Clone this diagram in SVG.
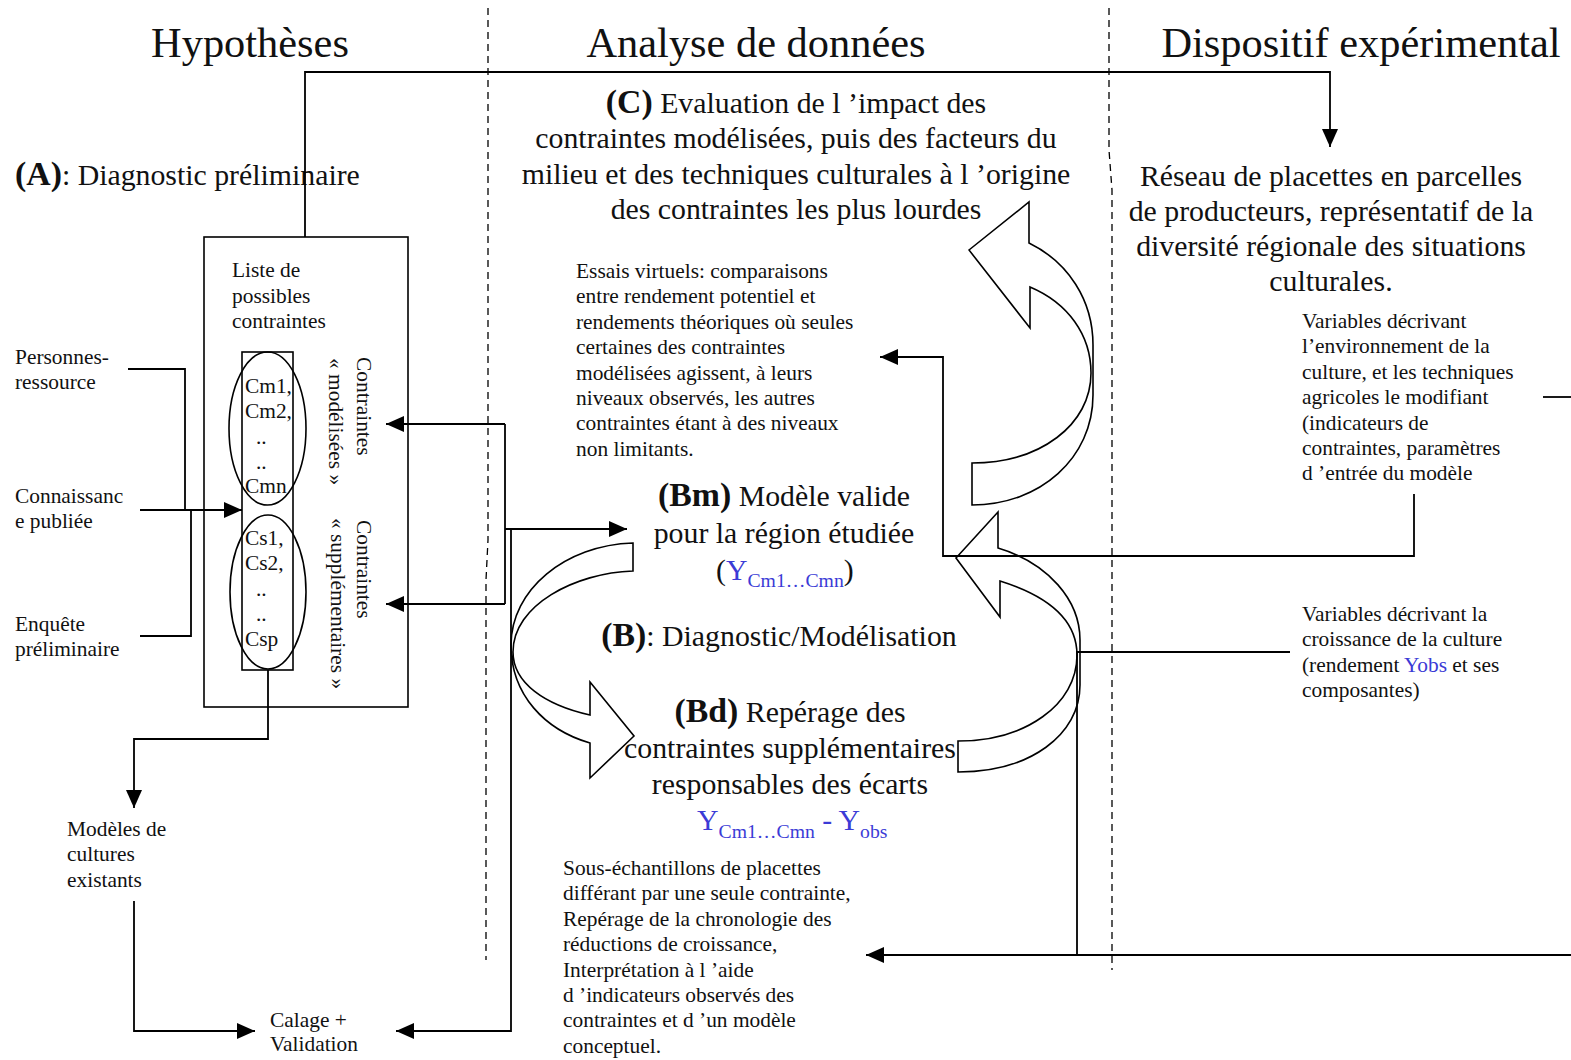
<svg xmlns="http://www.w3.org/2000/svg" width="1571" height="1060" viewBox="0 0 1571 1060">
<style>
text{font-family:"Liberation Serif","Times New Roman",serif;fill:#111}
.t{font-size:42.4px}
.L{font-size:29.8px}
.b{font-weight:bold;font-size:33.8px}
.s{font-size:21.4px}
.blue{fill:#3b3bd6}
.sub{font-size:19.7px}
.ln{fill:none;stroke:#000;stroke-width:1.8}
.sh{fill:none;stroke:#000;stroke-width:1.6}
.dash{fill:none;stroke:#000;stroke-width:1.3;stroke-dasharray:7 5}
</style>
<defs>
<marker id="ah" viewBox="0 0 18 16" refX="18" refY="8" markerWidth="18" markerHeight="16" markerUnits="userSpaceOnUse" orient="auto">
<path d="M0,0 L18,8 L0,16 Z" fill="#000"/>
</marker>
</defs>
<rect width="1571" height="1060" fill="#fff"/>

<g id="columns">
<path class="dash" d="M488,8 V540 L486,580 V960"/>
<path class="dash" d="M1109,8 V150 L1112,190 V970"/>
<text class="t" x="250" y="57" text-anchor="middle">Hypothèses</text>
<text class="t" x="756" y="57" text-anchor="middle">Analyse de données</text>
<text class="t" x="1361" y="57" text-anchor="middle">Dispositif expérimental</text>
</g>

<g id="nodeA">
<text class="L" x="15" y="185"><tspan class="b">(A)</tspan>: Diagnostic préliminaire</text>
</g>

<g id="listBox">
<rect class="sh" x="204" y="237" width="204" height="470"/>
<text class="s" x="232" y="277">Liste de</text>
<text class="s" x="232" y="303">possibles</text>
<text class="s" x="232" y="328">contraintes</text>
<rect class="sh" x="242" y="352" width="51" height="318"/>
<ellipse class="sh" cx="267.5" cy="428.5" rx="38.5" ry="76.5"/>
<ellipse class="sh" cx="268" cy="592" rx="38" ry="77"/>
<text class="s" x="245" y="393">Cm1,</text>
<text class="s" x="245" y="418">Cm2,</text>
<text class="s" x="256" y="444">..</text>
<text class="s" x="256" y="469">..</text>
<text class="s" x="245" y="493">Cmn</text>
<text class="s" x="245" y="545">Cs1,</text>
<text class="s" x="245" y="570">Cs2,</text>
<text class="s" x="256" y="596">..</text>
<text class="s" x="256" y="621">..</text>
<text class="s" x="245" y="646">Csp</text>
<text class="s" transform="translate(357,357) rotate(90)">Contraintes</text>
<text class="s" transform="translate(329,358) rotate(90)">« modélisées »</text>
<text class="s" transform="translate(357,520) rotate(90)">Contraintes</text>
<text class="s" transform="translate(331,518) rotate(90)">« supplémentaires »</text>
</g>

<g id="personnes"><text class="s" x="15" y="364">Personnes-</text><text class="s" x="15" y="389">ressource</text></g>
<g id="connaissance"><text class="s" x="15" y="503">Connaissanc</text><text class="s" x="15" y="528">e publiée</text></g>
<g id="enquete"><text class="s" x="15" y="631">Enquête</text><text class="s" x="15" y="656">préliminaire</text></g>
<g id="modeles"><text class="s" x="67" y="836">Modèles de</text><text class="s" x="67" y="861">cultures</text><text class="s" x="67" y="887">existants</text></g>
<g id="calage"><text class="s" x="270" y="1027">Calage +</text><text class="s" x="270" y="1051">Validation</text></g>

<g id="nodeC">
<text class="L" x="796" y="113" text-anchor="middle"><tspan class="b">(C)</tspan> Evaluation de l ’impact des</text>
<text class="L" x="796" y="148" text-anchor="middle">contraintes modélisées, puis des facteurs du</text>
<text class="L" x="796" y="184" text-anchor="middle">milieu et des techniques culturales à l ’origine</text>
<text class="L" x="796" y="219" text-anchor="middle">des contraintes les plus lourdes</text>
</g>

<g id="essais">
<text class="s" x="576" y="278">Essais virtuels: comparaisons</text>
<text class="s" x="576" y="303.4">entre rendement potentiel et</text>
<text class="s" x="576" y="328.8">rendements théoriques où seules</text>
<text class="s" x="576" y="354.2">certaines des contraintes</text>
<text class="s" x="576" y="379.6">modélisées agissent, à leurs</text>
<text class="s" x="576" y="405">niveaux observés, les autres</text>
<text class="s" x="576" y="430.4">contraintes étant à des niveaux</text>
<text class="s" x="576" y="455.8">non limitants.</text>
</g>

<g id="nodeBm">
<text class="L" x="784" y="506" text-anchor="middle"><tspan class="b">(Bm)</tspan> Modèle valide</text>
<text class="L" x="784" y="543" text-anchor="middle">pour la région étudiée</text>
<text class="L" x="716" y="580">(<tspan class="blue">Y</tspan><tspan class="blue sub" dy="7">Cm1…Cmn</tspan><tspan dy="-7">)</tspan></text>
</g>

<g id="nodeB">
<text class="L" x="779" y="646" text-anchor="middle"><tspan class="b">(B)</tspan>: Diagnostic/Modélisation</text>
</g>

<g id="nodeBd">
<text class="L" x="790" y="722" text-anchor="middle"><tspan class="b">(Bd)</tspan> Repérage des</text>
<text class="L" x="790" y="758" text-anchor="middle">contraintes supplémentaires</text>
<text class="L" x="790" y="794" text-anchor="middle">responsables des écarts</text>
<text class="L blue" x="697" y="830">Y<tspan class="sub" dy="8">Cm1…Cmn</tspan><tspan dy="-8"> - Y</tspan><tspan class="sub" dy="8">obs</tspan></text>
</g>

<g id="sousEch">
<text class="s" x="563" y="875">Sous-échantillons de placettes</text>
<text class="s" x="563" y="900.4">différant par une seule contrainte,</text>
<text class="s" x="563" y="925.8">Repérage de la chronologie des</text>
<text class="s" x="563" y="951.2">réductions de croissance,</text>
<text class="s" x="563" y="976.6">Interprétation à l ’aide</text>
<text class="s" x="563" y="1002">d ’indicateurs observés des</text>
<text class="s" x="563" y="1027.4">contraintes et d ’un modèle</text>
<text class="s" x="563" y="1052.8">conceptuel.</text>
</g>

<g id="reseau">
<text class="L" x="1331" y="186" text-anchor="middle">Réseau de placettes en parcelles</text>
<text class="L" x="1331" y="221" text-anchor="middle">de producteurs, représentatif de la</text>
<text class="L" x="1331" y="256" text-anchor="middle">diversité régionale des situations</text>
<text class="L" x="1331" y="291" text-anchor="middle">culturales.</text>
</g>

<g id="varEnv">
<text class="s" x="1302" y="328">Variables décrivant</text>
<text class="s" x="1302" y="353.4">l’environnement de la</text>
<text class="s" x="1302" y="378.8">culture, et les techniques</text>
<text class="s" x="1302" y="404.2">agricoles le modifiant</text>
<text class="s" x="1302" y="429.6">(indicateurs de</text>
<text class="s" x="1302" y="455">contraintes, paramètres</text>
<text class="s" x="1302" y="480.4">d ’entrée du modèle</text>
</g>

<g id="varCroiss">
<text class="s" x="1302" y="621">Variables décrivant la</text>
<text class="s" x="1302" y="646.4">croissance de la culture</text>
<text class="s" x="1302" y="671.8">(rendement <tspan class="blue">Yobs</tspan> et ses</text>
<text class="s" x="1302" y="697.2">composantes)</text>
</g>

<g id="bigArrows">
<path class="sh" d="M969,250 L1029,202 L1029,243 C1068,262 1093,300 1093,345 L1093,395 C1093,458 1040,505 972,505 L972,463 C1040,463 1091,425 1091,373 C1091,335 1068,303 1030,287 L1030,328 Z"/>
<path class="sh" d="M956,558 L998,512 L998,548 C1048,563 1080,600 1080,640 L1080,685 C1080,735 1030,772 958,772 L958,741 C1025,741 1077,705 1077,655 C1077,620 1048,596 1000,581 L1000,617 Z"/>
<path class="sh" d="M633,543 L633,571 C575,573 513,605 513,652 C513,683 545,705 590,715 L590,682 L634,736 L590,778 L590,743 C545,730 511,695 511,645 C511,590 565,545 633,543 Z"/>
</g>

<g id="connectors">
<path class="ln" d="M305,237 V72 H1330 V147" marker-end="url(#ah)"/>
<path class="ln" d="M128,369 H185 V510"/>
<path class="ln" d="M140,510 H242" marker-end="url(#ah)"/>
<path class="ln" d="M140,636 H191 V510"/>
<path class="ln" d="M268,670 V739 H134 V808" marker-end="url(#ah)"/>
<path class="ln" d="M134,901 V1031 H255" marker-end="url(#ah)"/>
<path class="ln" d="M505,424 H386" marker-end="url(#ah)"/>
<path class="ln" d="M505,604 H386" marker-end="url(#ah)"/>
<path class="ln" d="M505,424 V604"/>
<path class="ln" d="M505,529 H627" marker-end="url(#ah)"/>
<path class="ln" d="M511,529 V1031 H396" marker-end="url(#ah)"/>
<path class="ln" d="M1414,494 V556 H943 V357 H880" marker-end="url(#ah)"/>
<path class="ln" d="M1290,652 H1077 V955"/>
<path class="ln" d="M1571,955 H866" marker-end="url(#ah)"/>
<path class="ln" d="M1543,397 H1571"/>
</g>
</svg>
